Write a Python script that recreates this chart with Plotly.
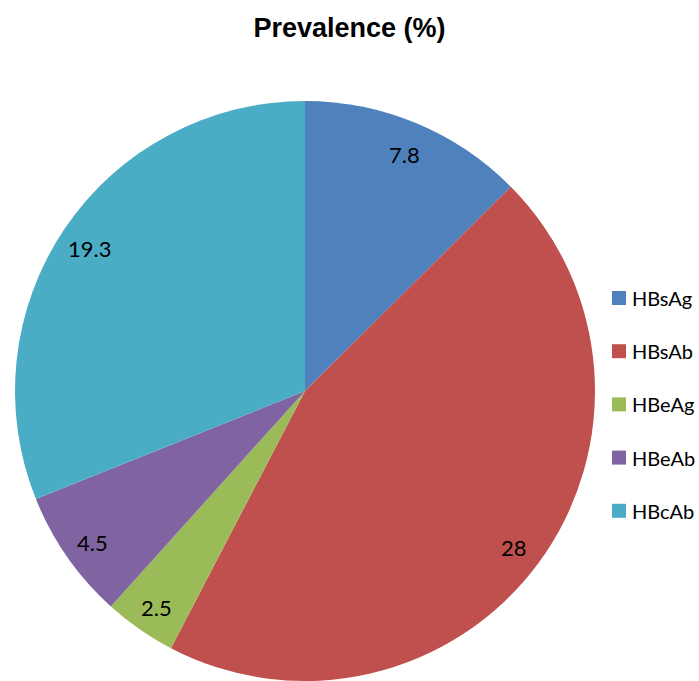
import math
import plotly.graph_objects as go

categories = ["HBsAg", "HBsAb", "HBeAg", "HBeAb", "HBcAb"]
values = [7.8, 28, 2.5, 4.5, 19.3]
colors = ["#4F81BD", "#C0504D", "#9BBB59", "#8064A2", "#4BACC6"]
title_text = "Prevalence (%)"

W, H = 699, 681
cx, cy, R = 305, 391, 290  # pixel layout of pie

fig = go.Figure()
fig.add_trace(go.Pie(
    labels=categories, values=values, sort=False, direction="clockwise",
    rotation=0, marker=dict(colors=colors, line=dict(width=0)),
    textinfo="none", hoverinfo="label+value", showlegend=False,
    domain=dict(x=[(cx - R) / W, (cx + R) / W], y=[(H - cy - R) / H, (H - cy + R) / H]),
))

annotations = []
total = sum(values)
cum = 0
for v in values:
    mid = (cum + v / 2) / total * 2 * math.pi
    cum += v
    r = 0.895 * R
    px = cx + r * math.sin(mid)
    py = cy - r * math.cos(mid) + 3
    annotations.append(dict(x=px / W, y=1 - py / H, xref="paper", yref="paper",
                            xanchor="center", yanchor="middle",
                            text=f"{v:g}", showarrow=False,
                            font=dict(family="Lato, Open Sans, sans-serif", size=22, color="#000")))

shapes = []
leg_x, leg_y0, leg_gap, sq = 612, 298, 53.2, 14
for i, (c, col) in enumerate(zip(categories, colors)):
    yy = leg_y0 + i * leg_gap
    shapes.append(dict(type="rect", xref="paper", yref="paper",
                       x0=leg_x / W, x1=(leg_x + sq) / W,
                       y0=1 - (yy + sq / 2) / H, y1=1 - (yy - sq / 2) / H,
                       fillcolor=col, line=dict(width=0)))
    annotations.append(dict(x=(leg_x + sq + 4) / W, y=1 - yy / H, xref="paper", yref="paper",
                            xanchor="left", yanchor="middle", text=c, showarrow=False,
                            font=dict(family="Lato, Open Sans, sans-serif", size=20, color="#000")))

fig.update_layout(
    width=W, height=H, margin=dict(l=0, r=0, t=0, b=0),
    paper_bgcolor="white", plot_bgcolor="white",
    title=dict(text=f"<b>{title_text}</b>", x=0.5, xanchor="center", y=1 - 28 / H, yanchor="middle",
               font=dict(family="Liberation Sans, Arial, sans-serif", size=27, color="#000")),
    annotations=annotations, shapes=shapes, showlegend=False,
)
fig.write_html("out.html")
